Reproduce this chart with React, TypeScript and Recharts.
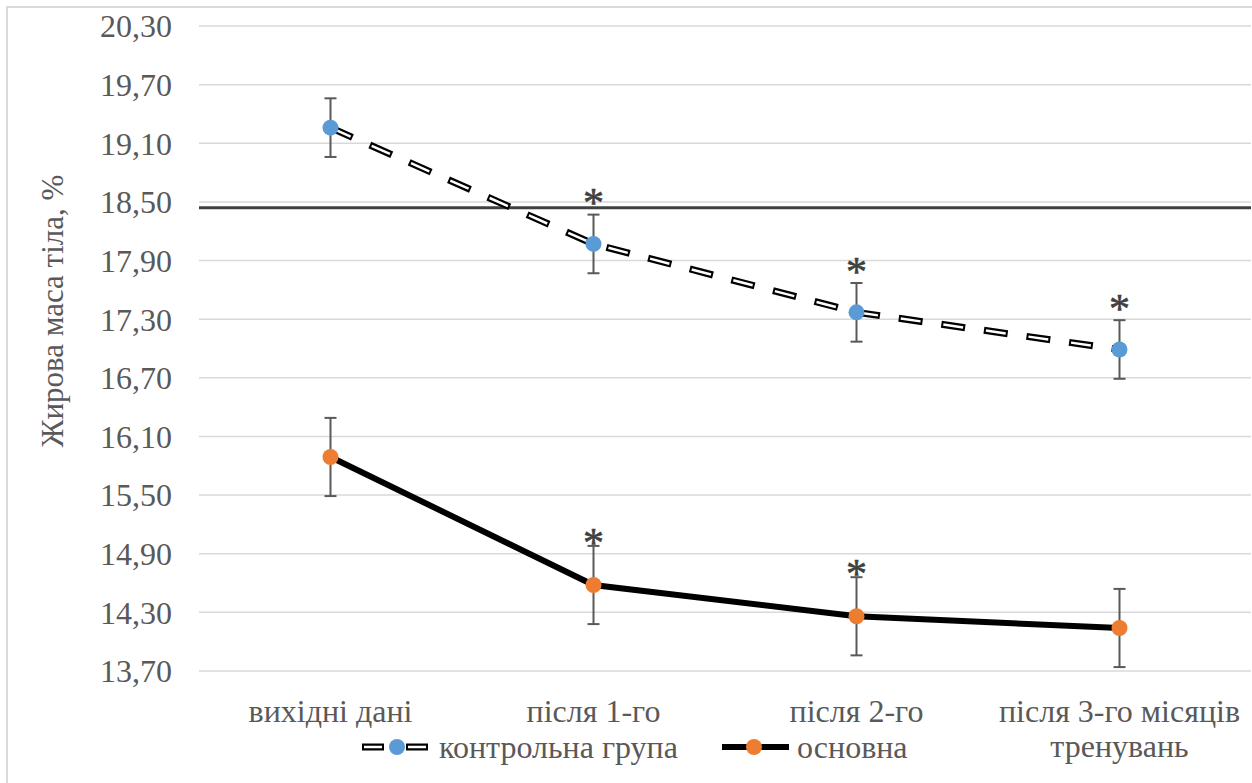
import { LineChart, Line, XAxis, YAxis, CartesianGrid, ReferenceLine, ErrorBar } from 'recharts';

const categories = ['вихідні дані', 'після 1-го', 'після 2-го', 'після 3-го місяців\nтренувань'];
const control = [19.26, 18.07, 17.37, 16.99];
const controlErr = [0.3, 0.3, 0.3, 0.3];
const controlStar = [false, true, true, true];
const mainGroup = [15.89, 14.58, 14.26, 14.14];
const mainErr = [0.4, 0.4, 0.4, 0.4];
const mainStar = [false, true, true, false];
const yTicks = [13.7, 14.3, 14.9, 15.5, 16.1, 16.7, 17.3, 17.9, 18.5, 19.1, 19.7, 20.3];
const refLevel = 18.44;

const FONT = '"Liberation Serif", "Times New Roman", serif';
const TEXT = '#595959';
const BLUE = '#5B9BD5';
const ORANGE = '#ED7D31';

const data = categories.map((name, i) => ({
  name,
  ctrl: control[i],
  ctrlErr: controlErr[i],
  ctrlTop: control[i] + controlErr[i],
  main: mainGroup[i],
  mainErr: mainErr[i],
  mainTop: mainGroup[i] + mainErr[i],
}));

const fmt = (v: number) => v.toFixed(2).replace('.', ',');

function XTick({ x, y, payload }: any) {
  const lines = String(payload.value).split('\n');
  return (
    <text x={x} y={y + 51} textAnchor="middle" fill={TEXT} fontSize={32} fontFamily={FONT}>
      {lines.map((l, i) => (
        <tspan key={i} x={x} dy={i === 0 ? 0 : 35}>{l}</tspan>
      ))}
    </text>
  );
}

// asterisk above the error bar cap for significant points
const star = (flags: boolean[], shift: number) => (props: any) => {
  const { x, y, index } = props;
  if (!flags[index]) return null;
  return (
    <text key={index} x={x} y={y + shift} textAnchor="middle" fill="#404040" stroke="#404040" strokeWidth={0.6} fontSize={42} fontFamily={FONT}>
      *
    </text>
  );
};

export default function App() {
  return (
    <div style={{ position: 'absolute', left: 0, top: 0, width: 1252, height: 783, overflow: 'hidden', background: '#fff' }}>
      <div style={{ position: 'absolute', left: 6, top: 6, width: 1300, height: 900, border: '2px solid #d9d9d9' }} />
      <LineChart width={1252} height={783} data={data} margin={{ top: 26, right: 1, bottom: 0, left: 0 }}>
        <CartesianGrid vertical={false} stroke="#d9d9d9" strokeWidth={1.5} />
        <XAxis
          dataKey="name"
          height={112}
          axisLine={false}
          tickLine={false}
          tickSize={0}
          tickMargin={0}
          tick={<XTick />}
          interval={0}
          padding={{ left: 131.5, right: 131.5 }}
        />
        <YAxis
          width={199}
          domain={[13.7, 20.3]}
          ticks={yTicks}
          tickFormatter={fmt}
          axisLine={false}
          tickLine={false}
          tickSize={0}
          tickMargin={27}
          tick={{ fill: TEXT, fontSize: 32, fontFamily: FONT }}
          interval={0}
        />
        <ReferenceLine y={refLevel} stroke="#404040" strokeWidth={3} />
        <Line dataKey="ctrl" stroke="#000" strokeWidth={7} strokeDasharray="24 19" dot={false} activeDot={false} isAnimationActive={false} legendType="none" />
        <Line
          dataKey="ctrl"
          stroke="#fff"
          strokeWidth={2.5}
          strokeDasharray="20 23"
          strokeDashoffset={-2}
          dot={{ r: 8, fill: BLUE, stroke: BLUE, strokeWidth: 0 }}
          activeDot={false}
          isAnimationActive={false}
        >
          <ErrorBar dataKey="ctrlErr" direction="y" width={6} stroke="#595959" strokeWidth={2} />
        </Line>
        <Line
          dataKey="main"
          stroke="#000"
          strokeWidth={6}
          dot={{ r: 8, fill: ORANGE, stroke: ORANGE, strokeWidth: 0 }}
          activeDot={false}
          isAnimationActive={false}
        >
          <ErrorBar dataKey="mainErr" direction="y" width={6} stroke="#595959" strokeWidth={2} />
        </Line>
        <Line dataKey="ctrlTop" stroke="none" dot={false} activeDot={false} isAnimationActive={false} label={star(controlStar, 2.5)} />
        <Line dataKey="mainTop" stroke="none" dot={false} activeDot={false} isAnimationActive={false} label={star(mainStar, 11)} />
      </LineChart>
      <svg width={1252} height={783} style={{ position: 'absolute', left: 0, top: 0, pointerEvents: 'none' }}>
        <text transform="translate(63,311) rotate(-90)" textAnchor="middle" fill={TEXT} fontSize={31} fontFamily={FONT}>
          Жирова маса тіла, %
        </text>
        {/* legend */}
        <g>
          <line x1={362} y1={747} x2={384} y2={747} stroke="#000" strokeWidth={7} />
          <line x1={364} y1={747} x2={382} y2={747} stroke="#fff" strokeWidth={2.5} />
          <line x1={406} y1={747} x2={428} y2={747} stroke="#000" strokeWidth={7} />
          <line x1={408} y1={747} x2={426} y2={747} stroke="#fff" strokeWidth={2.5} />
          <circle cx={397} cy={747} r={8} fill={BLUE} />
          <text x={439} y={758} fill={TEXT} fontSize={32} fontFamily={FONT}>контрольна група</text>
          <line x1={722} y1={747} x2={789} y2={747} stroke="#000" strokeWidth={6} />
          <circle cx={754} cy={747} r={8} fill={ORANGE} />
          <text x={797} y={758} fill={TEXT} fontSize={32} fontFamily={FONT}>основна</text>
        </g>
      </svg>
    </div>
  );
}
